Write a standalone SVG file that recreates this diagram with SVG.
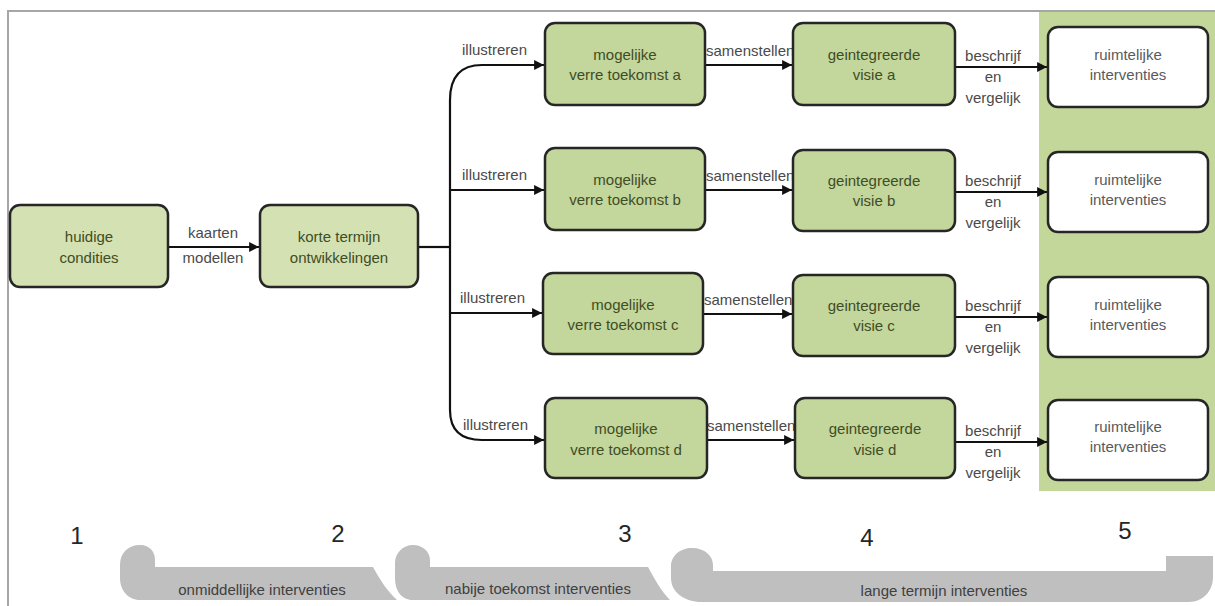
<svg xmlns="http://www.w3.org/2000/svg" width="1215" height="606" viewBox="0 0 1215 606">
<style>
.n{stroke:#262626;stroke-width:2.5}
.g1{fill:#d4e1b3}
.g2{fill:#c3d69b}
.w{fill:#ffffff}
.t{font-family:"Liberation Sans",Arial,sans-serif;font-size:15px;text-anchor:middle}
.tg{fill:#3f4d25}
.tw{fill:#5a5a5a}
.lab{font-family:"Liberation Sans",Arial,sans-serif;font-size:15px;fill:#4a4a4a}
.c{fill:none;stroke:#111;stroke-width:2.2}
.num{font-family:"Liberation Sans",Arial,sans-serif;font-size:24px;fill:#262626;text-anchor:middle}
.br{fill:#bfbfbf}
.bl{font-family:"Liberation Sans",Arial,sans-serif;font-size:15px;fill:#404040;text-anchor:middle}
</style>
<defs>
<marker id="ah" viewBox="0 0 10 10" refX="10" refY="5" markerWidth="5" markerHeight="4.5" markerUnits="strokeWidth" orient="auto">
<path d="M0,0 L10,5 L0,10 Z" fill="#111"/>
</marker>
</defs>
<rect width="1215" height="606" fill="#ffffff"/>
<path d="M7,11 H1215 M8,11 V606" stroke="#a6a6a6" stroke-width="2" fill="none"/>
<rect x="1039" y="12" width="176" height="479" fill="#c4d79b"/>

<g id="connectors">
<path class="c" d="M168,247 H259" marker-end="url(#ah)"/>
<path class="c" d="M418,247 H450"/>
<path class="c" d="M450,100 V410"/>
<path class="c" d="M450,100 Q450,65 482,65 H544" marker-end="url(#ah)"/>
<path class="c" d="M450,190 H544" marker-end="url(#ah)"/>
<path class="c" d="M450,313 H542" marker-end="url(#ah)"/>
<path class="c" d="M450,410 Q450,440 482,440 H544" marker-end="url(#ah)"/>
<path class="c" d="M705,65 H792" marker-end="url(#ah)"/>
<path class="c" d="M705,190 H792" marker-end="url(#ah)"/>
<path class="c" d="M703,314 H792" marker-end="url(#ah)"/>
<path class="c" d="M707,440 H794" marker-end="url(#ah)"/>
<path class="c" d="M955,67 H1047" marker-end="url(#ah)"/>
<path class="c" d="M955,192 H1047" marker-end="url(#ah)"/>
<path class="c" d="M955,317 H1047" marker-end="url(#ah)"/>
<path class="c" d="M955,442 H1047" marker-end="url(#ah)"/>
<text class="lab" x="213" y="238" font-size="16" text-anchor="middle">kaarten</text>
<text class="lab" x="213" y="263" font-size="16" text-anchor="middle">modellen</text>
<text class="lab" x="462" y="55">illustreren</text>
<text class="lab" x="462" y="180">illustreren</text>
<text class="lab" x="460" y="303">illustreren</text>
<text class="lab" x="463" y="430">illustreren</text>
<text class="lab" x="706" y="56">samenstellen</text>
<text class="lab" x="706" y="181">samenstellen</text>
<text class="lab" x="704" y="305">samenstellen</text>
<text class="lab" x="707" y="431">samenstellen</text>
<g class="lab" text-anchor="middle">
<text x="993" y="61">beschrijf</text><text x="993" y="82">en</text><text x="993" y="103">vergelijk</text>
<text x="993" y="186">beschrijf</text><text x="993" y="207">en</text><text x="993" y="228">vergelijk</text>
<text x="993" y="311">beschrijf</text><text x="993" y="332">en</text><text x="993" y="353">vergelijk</text>
<text x="993" y="436">beschrijf</text><text x="993" y="457">en</text><text x="993" y="478">vergelijk</text>
</g>
</g>

<g id="huidige">
<rect class="n g1" x="10" y="205" width="158" height="82" rx="10"/>
<text class="t tg" x="89" y="242">huidige</text>
<text class="t tg" x="89" y="263">condities</text>
</g>
<g id="korte">
<rect class="n g1" x="260" y="205" width="158" height="82" rx="10"/>
<text class="t tg" x="339" y="242">korte termijn</text>
<text class="t tg" x="339" y="263">ontwikkelingen</text>
</g>

<g id="mog-a">
<rect class="n g2" x="545" y="23" width="160" height="82" rx="10"/>
<text class="t tg" x="625" y="60">mogelijke</text>
<text class="t tg" x="625" y="80">verre toekomst a</text>
</g>
<g id="mog-b">
<rect class="n g2" x="545" y="148" width="160" height="82" rx="10"/>
<text class="t tg" x="625" y="185">mogelijke</text>
<text class="t tg" x="625" y="205">verre toekomst b</text>
</g>
<g id="mog-c">
<rect class="n g2" x="543" y="273" width="160" height="81" rx="10"/>
<text class="t tg" x="623" y="310">mogelijke</text>
<text class="t tg" x="623" y="330">verre toekomst c</text>
</g>
<g id="mog-d">
<rect class="n g2" x="545" y="398" width="162" height="80" rx="10"/>
<text class="t tg" x="626" y="434">mogelijke</text>
<text class="t tg" x="626" y="455">verre toekomst d</text>
</g>

<g id="geint-a">
<rect class="n g2" x="793" y="23" width="162" height="82" rx="10"/>
<text class="t tg" x="874" y="60">geintegreerde</text>
<text class="t tg" x="874" y="80">visie a</text>
</g>
<g id="geint-b">
<rect class="n g2" x="793" y="150" width="162" height="81" rx="10"/>
<text class="t tg" x="874" y="186">geintegreerde</text>
<text class="t tg" x="874" y="206">visie b</text>
</g>
<g id="geint-c">
<rect class="n g2" x="793" y="275" width="162" height="81" rx="10"/>
<text class="t tg" x="874" y="311">geintegreerde</text>
<text class="t tg" x="874" y="331">visie c</text>
</g>
<g id="geint-d">
<rect class="n g2" x="795" y="398" width="160" height="80" rx="10"/>
<text class="t tg" x="875" y="434">geintegreerde</text>
<text class="t tg" x="875" y="455">visie d</text>
</g>

<g id="ruimt-a">
<rect class="n w" x="1048" y="27" width="160" height="80" rx="10"/>
<text class="t tw" x="1128" y="60">ruimtelijke</text>
<text class="t tw" x="1128" y="80">interventies</text>
</g>
<g id="ruimt-b">
<rect class="n w" x="1048" y="152" width="160" height="80" rx="10"/>
<text class="t tw" x="1128" y="185">ruimtelijke</text>
<text class="t tw" x="1128" y="205">interventies</text>
</g>
<g id="ruimt-c">
<rect class="n w" x="1048" y="277" width="160" height="80" rx="10"/>
<text class="t tw" x="1128" y="310">ruimtelijke</text>
<text class="t tw" x="1128" y="330">interventies</text>
</g>
<g id="ruimt-d">
<rect class="n w" x="1048" y="400" width="160" height="80" rx="10"/>
<text class="t tw" x="1128" y="432">ruimtelijke</text>
<text class="t tw" x="1128" y="452">interventies</text>
</g>

<g id="phases">
<text class="num" x="77" y="544">1</text>
<text class="num" x="338" y="542">2</text>
<text class="num" x="625" y="542">3</text>
<text class="num" x="867" y="546">4</text>
<text class="num" x="1125" y="539">5</text>
<path class="br" d="M140,545 C150,545 155,552 155,560 L155,567 L373,567 C380,580 388,592 397,600 L140,600 C128,600 120,590 120,578 L120,565 C120,553 128,545 140,545 Z"/>
<path class="br" d="M413,545 C423,545 430,552 430,560 L430,567 L648,567 C655,580 662,592 670,600 L413,600 C401,600 395,590 395,578 L395,563 C395,553 403,545 413,545 Z"/>
<path class="br" d="M692,548 C705,548 713,556 713,565 L713,571 L1166,571 L1166,556 L1213,556 L1213,577 C1213,591 1203,602 1189,602 L702,602 C684,602 671,592 671,578 L671,566 C671,556 680,548 692,548 Z"/>
<text class="bl" x="262" y="595">onmiddellijke interventies</text>
<text class="bl" x="538" y="594">nabije toekomst interventies</text>
<text class="bl" x="944" y="596">lange termijn interventies</text>
</g>
</svg>
